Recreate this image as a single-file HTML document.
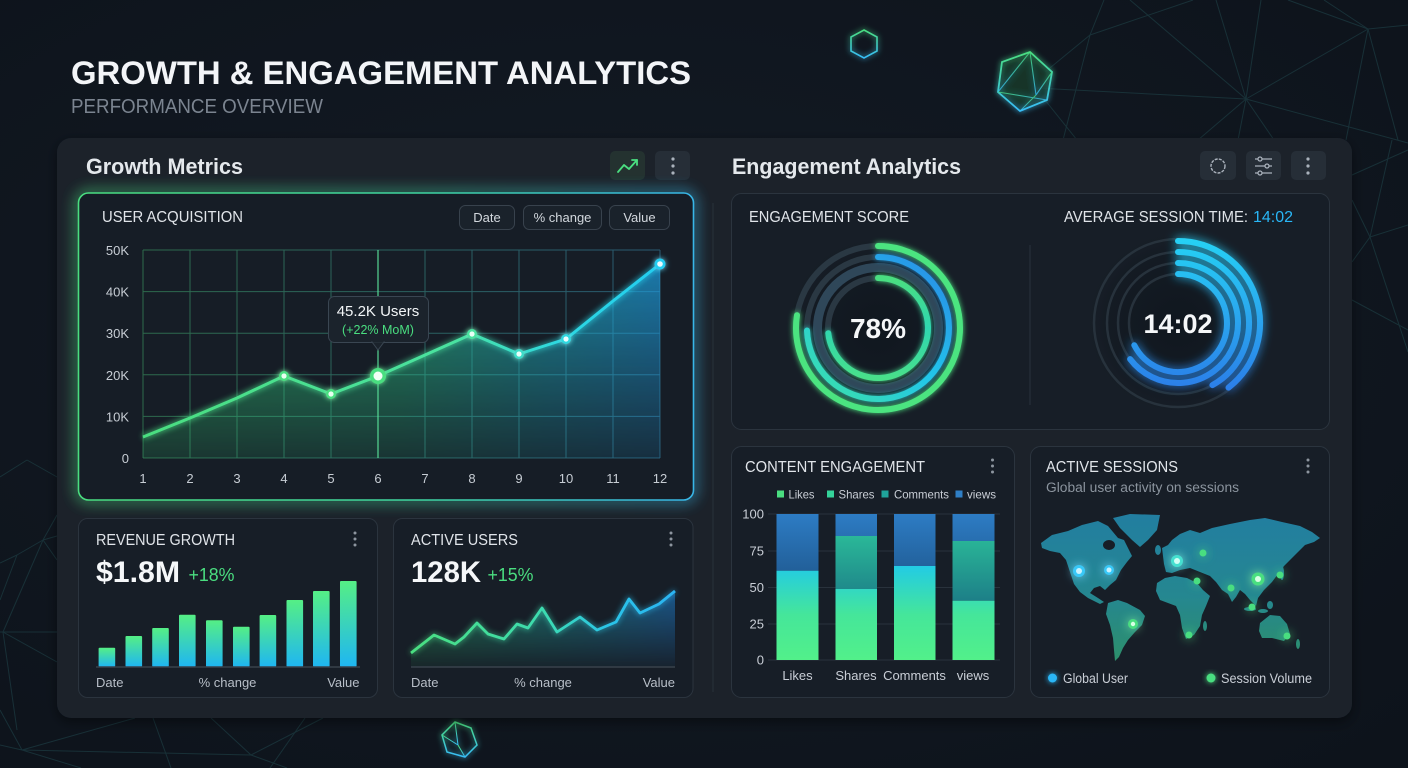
<!DOCTYPE html>
<html><head><meta charset="utf-8">
<style>
html,body{margin:0;padding:0;background:#0f161f;}
svg{display:block;}
text{font-family:"Liberation Sans",sans-serif;}
</style></head>
<body>
<svg width="1408" height="768" viewBox="0 0 1408 768" xmlns="http://www.w3.org/2000/svg">
<defs>
  <radialGradient id="bgG" cx="0.45" cy="0.45" r="0.75">
    <stop offset="0" stop-color="#141b25"/><stop offset="1" stop-color="#0d131b"/>
  </radialGradient>
  <filter id="glow" x="-50%" y="-50%" width="200%" height="200%">
    <feGaussianBlur stdDeviation="3" result="b"/>
    <feMerge><feMergeNode in="b"/><feMergeNode in="SourceGraphic"/></feMerge>
  </filter>
  <filter id="glow2" x="-50%" y="-50%" width="200%" height="200%">
    <feGaussianBlur stdDeviation="5" result="b"/>
    <feMerge><feMergeNode in="b"/><feMergeNode in="SourceGraphic"/></feMerge>
  </filter>
  <filter id="blur6" x="-20%" y="-20%" width="140%" height="140%"><feGaussianBlur stdDeviation="7"/></filter>
  <filter id="blur3" x="-20%" y="-20%" width="140%" height="140%"><feGaussianBlur stdDeviation="3"/></filter>
  <filter id="shadow" x="-10%" y="-10%" width="120%" height="130%">
    <feDropShadow dx="0" dy="4" stdDeviation="6" flood-color="#000" flood-opacity="0.45"/>
  </filter>
  <linearGradient id="cardBorder" x1="78" y1="0" x2="694" y2="0" gradientUnits="userSpaceOnUse">
    <stop offset="0" stop-color="#4ade80"/><stop offset="0.55" stop-color="#3fd6a0"/><stop offset="1" stop-color="#38b6e8"/>
  </linearGradient>
  <linearGradient id="gridG" x1="143" y1="0" x2="660" y2="0" gradientUnits="userSpaceOnUse">
    <stop offset="0" stop-color="#2d6a4c"/><stop offset="1" stop-color="#295a72"/>
  </linearGradient>
  <linearGradient id="acqFill" x1="143" y1="0" x2="660" y2="0" gradientUnits="userSpaceOnUse">
    <stop offset="0" stop-color="#37d777"/><stop offset="0.5" stop-color="#2ccb8c"/><stop offset="0.78" stop-color="#20b2c6"/><stop offset="1" stop-color="#1e9fe2"/>
  </linearGradient>
  <linearGradient id="acqLine" x1="143" y1="0" x2="660" y2="0" gradientUnits="userSpaceOnUse">
    <stop offset="0" stop-color="#4ade80"/><stop offset="0.6" stop-color="#4ae2a0"/><stop offset="0.8" stop-color="#2ed8e0"/><stop offset="1" stop-color="#22cdf0"/>
  </linearGradient>
  <linearGradient id="vfade" x1="0" y1="260" x2="0" y2="458" gradientUnits="userSpaceOnUse">
    <stop offset="0" stop-color="#fff" stop-opacity="0.72"/><stop offset="1" stop-color="#fff" stop-opacity="0.14"/>
  </linearGradient>
  <mask id="acqMask"><rect x="140" y="240" width="530" height="230" fill="url(#vfade)"/></mask>
  <linearGradient id="vfade2" x1="0" y1="590" x2="0" y2="667" gradientUnits="userSpaceOnUse">
    <stop offset="0" stop-color="#fff" stop-opacity="0.6"/><stop offset="1" stop-color="#fff" stop-opacity="0.05"/>
  </linearGradient>
  <mask id="auMask"><rect x="405" y="585" width="280" height="90" fill="url(#vfade2)"/></mask>
  <linearGradient id="auFill" x1="411" y1="0" x2="675" y2="0" gradientUnits="userSpaceOnUse">
    <stop offset="0" stop-color="#2fbf6a"/><stop offset="0.5" stop-color="#22a6a0"/><stop offset="1" stop-color="#1f7fd0"/>
  </linearGradient>
  <linearGradient id="auLine" x1="411" y1="0" x2="675" y2="0" gradientUnits="userSpaceOnUse">
    <stop offset="0" stop-color="#4ade80"/><stop offset="0.5" stop-color="#3ddcb0"/><stop offset="0.75" stop-color="#2ac4e8"/><stop offset="1" stop-color="#2bb4f2"/>
  </linearGradient>
  <linearGradient id="barG" x1="0" y1="0" x2="0" y2="1">
    <stop offset="0" stop-color="#55ef85"/><stop offset="1" stop-color="#1fb6f2"/>
  </linearGradient>
  <linearGradient id="ceBottom" x1="0" y1="660" x2="0" y2="560" gradientUnits="userSpaceOnUse">
    <stop offset="0" stop-color="#52f08a"/><stop offset="0.45" stop-color="#45e69a"/><stop offset="1" stop-color="#1ec8ee"/>
  </linearGradient>
  <linearGradient id="ceMid" x1="0" y1="536" x2="0" y2="600" gradientUnits="userSpaceOnUse">
    <stop offset="0" stop-color="#2ab898"/><stop offset="1" stop-color="#1d8088"/>
  </linearGradient>
  <linearGradient id="ceTop" x1="0" y1="514" x2="0" y2="570" gradientUnits="userSpaceOnUse">
    <stop offset="0" stop-color="#2d7cc4"/><stop offset="1" stop-color="#22609a"/>
  </linearGradient>
  <linearGradient id="mapG" x1="0" y1="515" x2="0" y2="662" gradientUnits="userSpaceOnUse">
    <stop offset="0" stop-color="#2487ab"/><stop offset="0.55" stop-color="#27909a"/><stop offset="1" stop-color="#2f9a70"/>
  </linearGradient>
  <linearGradient id="r1blue" x1="930" y1="255" x2="820" y2="380" gradientUnits="userSpaceOnUse">
    <stop offset="0" stop-color="#2a8ee8"/><stop offset="0.55" stop-color="#22c6ea"/><stop offset="1" stop-color="#37dcb4"/>
  </linearGradient>
  <linearGradient id="r1in" x1="0" y1="278" x2="0" y2="378" gradientUnits="userSpaceOnUse">
    <stop offset="0" stop-color="#4ade80"/><stop offset="0.5" stop-color="#2fd6b0"/><stop offset="1" stop-color="#48e08a"/>
  </linearGradient>
  <linearGradient id="r2" x1="0" y1="241" x2="0" y2="400" gradientUnits="userSpaceOnUse">
    <stop offset="0" stop-color="#27d0f4"/><stop offset="1" stop-color="#2d78e8"/>
  </linearGradient>
  <linearGradient id="hexG" x1="0" y1="0" x2="0" y2="1">
    <stop offset="0" stop-color="#4ade80"/><stop offset="1" stop-color="#38bdf8"/>
  </linearGradient>
  <radialGradient id="ringHalo" cx="0.5" cy="0.5" r="0.5">
    <stop offset="0" stop-color="#0f161e" stop-opacity="0.9"/><stop offset="0.75" stop-color="#111820" stop-opacity="0.5"/><stop offset="1" stop-color="#171e27" stop-opacity="0"/>
  </radialGradient>
</defs>

<!-- background -->
<rect width="1408" height="768" fill="url(#bgG)"/>
<g stroke="#1c3a40" stroke-width="1" fill="none" opacity="0.75">
  <line x1="1104" y1="0" x2="1090" y2="35"/><line x1="1090" y1="35" x2="1193" y2="0"/>
  <line x1="1090" y1="35" x2="1045" y2="72"/><line x1="1130" y1="0" x2="1246" y2="99"/>
  <line x1="1216" y1="0" x2="1246" y2="99"/><line x1="1261" y1="0" x2="1246" y2="99"/>
  <line x1="1246" y1="99" x2="1368" y2="29"/><line x1="1288" y1="0" x2="1368" y2="29"/>
  <line x1="1324" y1="0" x2="1368" y2="29"/><line x1="1368" y1="29" x2="1408" y2="25"/>
  <line x1="1368" y1="29" x2="1346" y2="140"/><line x1="1246" y1="99" x2="1198" y2="140"/>
  <line x1="1246" y1="99" x2="1238" y2="140"/><line x1="1246" y1="99" x2="1274" y2="140"/>
  <line x1="1246" y1="99" x2="1408" y2="143"/><line x1="1036" y1="88" x2="1246" y2="99"/>
  <line x1="1090" y1="35" x2="1063" y2="140"/><line x1="1045" y1="100" x2="1077" y2="140"/>
  <line x1="1368" y1="29" x2="1398" y2="140"/>
  <line x1="1352" y1="200" x2="1370" y2="237"/><line x1="1370" y1="237" x2="1408" y2="225"/>
  <line x1="1370" y1="237" x2="1408" y2="352"/><line x1="1352" y1="262" x2="1370" y2="237"/>
  <line x1="1352" y1="175" x2="1408" y2="150"/><line x1="1370" y1="237" x2="1392" y2="140"/>
  <line x1="1352" y1="300" x2="1408" y2="330"/>
  <!-- left -->
  <line x1="0" y1="477" x2="27" y2="460"/><line x1="27" y1="460" x2="57" y2="477"/>
  <line x1="0" y1="563" x2="17" y2="555"/><line x1="17" y1="555" x2="43" y2="540"/>
  <line x1="43" y1="540" x2="57" y2="536"/><line x1="43" y1="540" x2="3" y2="632"/>
  <line x1="43" y1="540" x2="57" y2="560"/><line x1="0" y1="632" x2="57" y2="632"/>
  <line x1="3" y1="632" x2="57" y2="662"/><line x1="3" y1="632" x2="17" y2="730"/>
  <line x1="57" y1="515" x2="43" y2="540"/><line x1="17" y1="555" x2="0" y2="600"/>
  <!-- bottom -->
  <line x1="0" y1="710" x2="22" y2="750"/><line x1="22" y1="750" x2="135" y2="718"/>
  <line x1="22" y1="750" x2="81" y2="768"/><line x1="22" y1="750" x2="251" y2="755"/>
  <line x1="153" y1="718" x2="171" y2="768"/><line x1="211" y1="718" x2="251" y2="755"/>
  <line x1="251" y1="755" x2="323" y2="718"/><line x1="251" y1="755" x2="287" y2="768"/>
  <line x1="305" y1="718" x2="270" y2="768"/><line x1="0" y1="745" x2="22" y2="750"/>
</g>
<!-- decorative polyhedra -->
<g fill="none" stroke="url(#hexG)" stroke-width="1.6" filter="url(#glow)">
  <polygon points="864,30 877,37 877,51 864,58 851,51 851,37"/>
</g>
<g filter="url(#glow)">
  <polygon points="1030,52 1052,72 1047,100 1020,111 998,92 1002,62" fill="#173a2c" fill-opacity="0.6" stroke="url(#hexG)" stroke-width="1.8"/>
  <g stroke="url(#hexG)" stroke-width="1.1" fill="none" opacity="0.8">
    <line x1="1030" y1="52" x2="998" y2="92"/><line x1="998" y1="92" x2="1047" y2="100"/>
    <line x1="1030" y1="52" x2="1036" y2="95"/><line x1="1036" y1="95" x2="1020" y2="111"/>
    <line x1="1036" y1="95" x2="1052" y2="72"/>
  </g>
</g>
<g filter="url(#glow)" fill="none" stroke="url(#hexG)" stroke-width="1.5">
  <polygon points="455,722 471,728 477,745 465,757 447,752 442,735"/>
  <line x1="455" y1="722" x2="458" y2="745" stroke-width="1"/><line x1="458" y1="745" x2="442" y2="735" stroke-width="1"/>
  <line x1="458" y1="745" x2="465" y2="757" stroke-width="1"/><line x1="458" y1="745" x2="477" y2="745" stroke-width="1"/>
</g>

<!-- header -->
<text x="71" y="84" font-size="32" font-weight="bold" fill="#f3f5f8" textLength="620" lengthAdjust="spacingAndGlyphs">GROWTH &amp; ENGAGEMENT ANALYTICS</text>
<text x="71" y="113" font-size="20" fill="#7b8490" textLength="252" lengthAdjust="spacingAndGlyphs">PERFORMANCE OVERVIEW</text>

<!-- main panel -->
<rect x="57" y="138" width="1295" height="580" rx="14" fill="#1a212a" filter="url(#shadow)"/>

<!-- Growth Metrics header -->
<text x="86" y="174" font-size="22" font-weight="bold" fill="#e4e8ec" textLength="157" lengthAdjust="spacingAndGlyphs">Growth Metrics</text>
<rect x="610" y="151" width="35" height="29" rx="5" fill="#243230"/>
<g stroke="#4ade80" stroke-width="1.8" fill="none" stroke-linecap="round" stroke-linejoin="round">
  <polyline points="618,172 624,165 629,169 637,160"/><polyline points="632,160 637,160 637,165"/>
</g>
<rect x="655" y="151" width="35" height="29" rx="5" fill="#262e37"/>
<g fill="#aab2bc"><circle cx="673" cy="159" r="1.6"/><circle cx="673" cy="166" r="1.6"/><circle cx="673" cy="173" r="1.6"/></g>

<!-- Engagement header -->
<text x="732" y="174" font-size="22" font-weight="bold" fill="#e4e8ec" textLength="229" lengthAdjust="spacingAndGlyphs">Engagement Analytics</text>
<rect x="1200" y="151" width="36" height="29" rx="5" fill="#262e37"/>
<circle cx="1218" cy="166" r="7" fill="none" stroke="#aab2bc" stroke-width="1.4" stroke-dasharray="3 1.2"/>
<rect x="1246" y="151" width="35" height="29" rx="5" fill="#262e37"/>
<g stroke="#aab2bc" stroke-width="1.3" fill="#262e37">
  <line x1="1255" y1="159" x2="1272" y2="159"/><line x1="1255" y1="166" x2="1272" y2="166"/><line x1="1255" y1="173" x2="1272" y2="173"/>
  <circle cx="1260" cy="159" r="2"/><circle cx="1267" cy="166" r="2"/><circle cx="1260" cy="173" r="2"/>
</g>
<rect x="1291" y="151" width="35" height="29" rx="5" fill="#262e37"/>
<g fill="#aab2bc"><circle cx="1308" cy="159" r="1.6"/><circle cx="1308" cy="166" r="1.6"/><circle cx="1308" cy="173" r="1.6"/></g>

<line x1="713" y1="203" x2="713" y2="692" stroke="#28313b" stroke-width="1"/>

<!-- User acquisition card -->
<rect x="78.5" y="193" width="615" height="307" rx="10" fill="none" stroke="url(#cardBorder)" stroke-width="5" filter="url(#blur6)" opacity="0.9"/>
<rect x="78.5" y="193" width="615" height="307" rx="10" fill="#161d26" stroke="url(#cardBorder)" stroke-width="1.6"/>
<text x="102" y="222" font-size="16" fill="#e0e4e9" textLength="141" lengthAdjust="spacingAndGlyphs">USER ACQUISITION</text>
<g fill="#1a222b" stroke="#38424d" stroke-width="1">
  <rect x="459.5" y="205.5" width="55" height="24" rx="6"/>
  <rect x="523.5" y="205.5" width="78" height="24" rx="6"/>
  <rect x="609.5" y="205.5" width="60" height="24" rx="6"/>
</g>
<g font-size="13" fill="#d3d8de" text-anchor="middle">
  <text x="487" y="222">Date</text><text x="562.5" y="222">% change</text><text x="639.5" y="222">Value</text>
</g>
<!-- grid -->
<g stroke="url(#gridG)" stroke-width="1">
  <line x1="143" y1="250" x2="660" y2="250"/><line x1="143" y1="291.6" x2="660" y2="291.6"/>
  <line x1="143" y1="333.2" x2="660" y2="333.2"/><line x1="143" y1="374.8" x2="660" y2="374.8"/>
  <line x1="143" y1="416.4" x2="660" y2="416.4"/><line x1="143" y1="458" x2="660" y2="458"/>
  <line x1="143" y1="250" x2="143" y2="458"/><line x1="190" y1="250" x2="190" y2="458"/>
  <line x1="237" y1="250" x2="237" y2="458"/><line x1="284" y1="250" x2="284" y2="458"/>
  <line x1="331" y1="250" x2="331" y2="458"/><line x1="425" y1="250" x2="425" y2="458"/>
  <line x1="472" y1="250" x2="472" y2="458"/><line x1="519" y1="250" x2="519" y2="458"/>
  <line x1="566" y1="250" x2="566" y2="458"/><line x1="613" y1="250" x2="613" y2="458"/>
  <line x1="660" y1="250" x2="660" y2="458"/>
</g>
<path d="M143,458 L143,437 190,418 237,398 284,376 331,394 378,376 425,355 472,334 519,354 566,339 613,301 660,264 L660,458 Z" fill="url(#acqFill)" mask="url(#acqMask)"/>
<line x1="378" y1="250" x2="378" y2="458" stroke="#5be39a" stroke-width="1.5" opacity="0.75"/>
<polyline points="143,437 190,418 237,398 284,376 331,394 378,376 425,355 472,334 519,354 566,339 613,301 660,264" fill="none" stroke="url(#acqLine)" stroke-width="5" filter="url(#blur3)" opacity="0.7"/>
<polyline points="143,437 190,418 237,398 284,376 331,394 378,376 425,355 472,334 519,354 566,339 613,301 660,264" fill="none" stroke="url(#acqLine)" stroke-width="3" stroke-linejoin="round"/>
<g filter="url(#glow)">
  <circle cx="284" cy="376" r="5" fill="#4ade80"/><circle cx="284" cy="376" r="2.6" fill="#e8fff0"/>
  <circle cx="331" cy="394" r="5" fill="#4ade80"/><circle cx="331" cy="394" r="2.6" fill="#e8fff0"/>
  <circle cx="378" cy="376" r="8" fill="#4ade80"/><circle cx="378" cy="376" r="4.5" fill="#f0fff5"/>
  <circle cx="472" cy="334" r="5" fill="#4ae2a0"/><circle cx="472" cy="334" r="2.6" fill="#e8fff5"/>
  <circle cx="519" cy="354" r="5" fill="#3ddcc8"/><circle cx="519" cy="354" r="2.6" fill="#e8fffa"/>
  <circle cx="566" cy="339" r="5" fill="#2ed8e0"/><circle cx="566" cy="339" r="2.6" fill="#e8fdff"/>
  <circle cx="660" cy="264" r="5.5" fill="#22cdf0"/><circle cx="660" cy="264" r="2.8" fill="#e8faff"/>
</g>
<!-- tooltip -->
<rect x="328.5" y="296.5" width="100" height="46" rx="6" fill="#1b232c" stroke="#3a4652" stroke-width="1"/>
<polygon points="372,342 378,350 384,342" fill="#1b232c" stroke="#3a4652" stroke-width="1"/>
<rect x="372.5" y="340" width="11" height="2.2" fill="#1b232c"/>
<text x="378" y="316" font-size="15" fill="#f2f5f7" text-anchor="middle">45.2K Users</text>
<text x="378" y="334" font-size="12.5" fill="#4ade80" text-anchor="middle">(+22% MoM)</text>
<!-- axis labels -->
<g font-size="13" fill="#c7cdd4" text-anchor="end">
  <text x="129" y="255">50K</text><text x="129" y="296.6">40K</text><text x="129" y="338">30K</text>
  <text x="129" y="380">20K</text><text x="129" y="421.4">10K</text><text x="129" y="463">0</text>
</g>
<g font-size="13" fill="#c7cdd4" text-anchor="middle">
  <text x="143" y="483">1</text><text x="190" y="483">2</text><text x="237" y="483">3</text><text x="284" y="483">4</text>
  <text x="331" y="483">5</text><text x="378" y="483">6</text><text x="425" y="483">7</text><text x="472" y="483">8</text>
  <text x="519" y="483">9</text><text x="566" y="483">10</text><text x="613" y="483">11</text><text x="660" y="483">12</text>
</g>

<!-- Revenue growth card -->
<rect x="78.5" y="518.5" width="299" height="179" rx="9" fill="#171e27" stroke="#2b343e" stroke-width="1"/>
<text x="96" y="545" font-size="15.5" fill="#e0e4e9" textLength="139" lengthAdjust="spacingAndGlyphs">REVENUE GROWTH</text>
<g fill="#8d959f"><circle cx="355" cy="533" r="1.5"/><circle cx="355" cy="539" r="1.5"/><circle cx="355" cy="545" r="1.5"/></g>
<text x="96" y="582" font-size="30" font-weight="bold" fill="#f5f7f9" textLength="84" lengthAdjust="spacingAndGlyphs">$1.8M</text>
<text x="188.5" y="581" font-size="18" fill="#4ade80" textLength="46" lengthAdjust="spacingAndGlyphs">+18%</text>
<g fill="url(#barG)">
  <rect x="98.6" y="647.7" width="16.6" height="19" rx="1"/>
  <rect x="125.5" y="636" width="16.6" height="30.7" rx="1"/>
  <rect x="152.2" y="628" width="16.6" height="38.7" rx="1"/>
  <rect x="179" y="614.7" width="16.6" height="52" rx="1"/>
  <rect x="206" y="620.3" width="16.6" height="46.4" rx="1"/>
  <rect x="233" y="626.7" width="16.6" height="40" rx="1"/>
  <rect x="259.6" y="615" width="16.6" height="51.7" rx="1"/>
  <rect x="286.5" y="600" width="16.6" height="66.7" rx="1"/>
  <rect x="313" y="591" width="16.6" height="75.7" rx="1"/>
  <rect x="340" y="581" width="16.6" height="85.7" rx="1"/>
</g>
<line x1="96" y1="667" x2="360" y2="667" stroke="#38424c" stroke-width="1.5"/>
<g font-size="13" fill="#b8bfc8">
  <text x="96" y="687">Date</text><text x="227.5" y="687" text-anchor="middle">% change</text><text x="359.5" y="687" text-anchor="end">Value</text>
</g>

<!-- Active users card -->
<rect x="393.5" y="518.5" width="299.5" height="179" rx="9" fill="#171e27" stroke="#2b343e" stroke-width="1"/>
<text x="411" y="545" font-size="15.5" fill="#e0e4e9" textLength="107" lengthAdjust="spacingAndGlyphs">ACTIVE USERS</text>
<g fill="#8d959f"><circle cx="671" cy="533" r="1.5"/><circle cx="671" cy="539" r="1.5"/><circle cx="671" cy="545" r="1.5"/></g>
<text x="411" y="582" font-size="30" font-weight="bold" fill="#f5f7f9" textLength="70" lengthAdjust="spacingAndGlyphs">128K</text>
<text x="487.5" y="581" font-size="18" fill="#4ade80" textLength="46" lengthAdjust="spacingAndGlyphs">+15%</text>
<path d="M411,666.7 L411,653 434,635 455,644 464,637 477,623 488,634 504,639 517,624 528,628 542,608 557,632 580,617 597,630 616,622 629,599 640,613 659,604 675,591 L675,666.7 Z" fill="url(#auFill)" mask="url(#auMask)"/>
<polyline points="411,653 434,635 455,644 464,637 477,623 488,634 504,639 517,624 528,628 542,608 557,632 580,617 597,630 616,622 629,599 640,613 659,604 675,591" fill="none" stroke="url(#auLine)" stroke-width="4" filter="url(#blur3)" opacity="0.6"/>
<polyline points="411,653 434,635 455,644 464,637 477,623 488,634 504,639 517,624 528,628 542,608 557,632 580,617 597,630 616,622 629,599 640,613 659,604 675,591" fill="none" stroke="url(#auLine)" stroke-width="2.8" stroke-linejoin="round"/>
<line x1="411" y1="667" x2="675" y2="667" stroke="#38424c" stroke-width="1.5"/>
<g font-size="13" fill="#b8bfc8">
  <text x="411" y="687">Date</text><text x="543" y="687" text-anchor="middle">% change</text><text x="675" y="687" text-anchor="end">Value</text>
</g>

<!-- Engagement card -->
<rect x="731.5" y="193.5" width="598" height="236" rx="10" fill="#171e27" stroke="#2b343e" stroke-width="1"/>
<text x="749" y="222" font-size="16" fill="#e0e4e9" textLength="160" lengthAdjust="spacingAndGlyphs">ENGAGEMENT SCORE</text>
<text x="1064" y="222" font-size="16" fill="#e0e4e9" textLength="184" lengthAdjust="spacingAndGlyphs">AVERAGE SESSION TIME:</text>
<text x="1253" y="222" font-size="16" fill="#29b6f6" textLength="40" lengthAdjust="spacingAndGlyphs">14:02</text>
<line x1="1030" y1="245" x2="1030" y2="405" stroke="#2a333d" stroke-width="1"/>

<!-- ring 1 -->
<circle cx="878" cy="328" r="95" fill="url(#ringHalo)"/>
<g fill="none" stroke-width="6">
  <circle cx="878" cy="328" r="82" stroke="#2a3843"/>
  <circle cx="878" cy="328" r="71" stroke="#2a3843"/>
  <circle cx="878" cy="328" r="60.5" stroke="#2f4759" stroke-width="9"/>
  <circle cx="878" cy="328" r="50" stroke="#2a3843"/>
</g>
<g fill="none" stroke-width="6" stroke-linecap="round" filter="url(#glow)">
  <path d="M878,246 A82,82 0 1 1 797,315.2" stroke="#4be480"/>
  <path d="M878,257 A71,71 0 1 1 807,330.5" stroke="url(#r1blue)"/>
  <path d="M878,278 A50,50 0 1 1 828.3,333.2" stroke="url(#r1in)"/>
</g>
<text x="878" y="338" font-size="28" font-weight="bold" fill="#f5f7f9" text-anchor="middle">78%</text>

<!-- ring 2 -->
<circle cx="1178" cy="323" r="95" fill="url(#ringHalo)"/>
<g fill="none" stroke="#27323c" stroke-width="2.5">
  <circle cx="1178" cy="323" r="84"/><circle cx="1178" cy="323" r="71"/>
  <circle cx="1178" cy="323" r="60"/><circle cx="1178" cy="323" r="49"/>
</g>
<g fill="none" stroke="url(#r2)" stroke-width="6" stroke-linecap="round" filter="url(#glow2)">
  <path d="M1178,241 A82,82 0 0 1 1228.5,387.6"/>
  <path d="M1178,252 A71,71 0 0 1 1212.4,385.1"/>
  <path d="M1178,263 A60,60 0 1 1 1130.1,359.1"/>
  <path d="M1178,274 A49,49 0 1 1 1134.3,345.2"/>
</g>
<text x="1178" y="333" font-size="27" font-weight="bold" fill="#f5f7f9" text-anchor="middle">14:02</text>

<!-- Content engagement -->
<rect x="731.5" y="446.5" width="283" height="251" rx="10" fill="#171e27" stroke="#2b343e" stroke-width="1"/>
<text x="745" y="472" font-size="15.5" fill="#e0e4e9" textLength="180" lengthAdjust="spacingAndGlyphs">CONTENT ENGAGEMENT</text>
<g fill="#8d959f"><circle cx="992.5" cy="460" r="1.5"/><circle cx="992.5" cy="466" r="1.5"/><circle cx="992.5" cy="472" r="1.5"/></g>
<rect x="777" y="490.5" width="7" height="7" fill="#4ade80"/>
<rect x="827" y="490.5" width="7" height="7" fill="#34d39a"/>
<rect x="881.5" y="490.5" width="7" height="7" fill="#1fa39a"/>
<rect x="955.5" y="490.5" width="7" height="7" fill="#2f7fc6"/>
<g font-size="12" fill="#c9ced6">
  <text x="788.5" y="498.5" textLength="26" lengthAdjust="spacingAndGlyphs">Likes</text>
  <text x="838.5" y="498.5" textLength="36" lengthAdjust="spacingAndGlyphs">Shares</text>
  <text x="894" y="498.5" textLength="55" lengthAdjust="spacingAndGlyphs">Comments</text>
  <text x="967" y="498.5" textLength="29" lengthAdjust="spacingAndGlyphs">views</text>
</g>
<g stroke="#29323c" stroke-width="1">
  <line x1="768" y1="514" x2="1000" y2="514"/><line x1="768" y1="551" x2="1000" y2="551"/>
  <line x1="768" y1="587.5" x2="1000" y2="587.5"/><line x1="768" y1="624" x2="1000" y2="624"/>
  <line x1="768" y1="660" x2="1000" y2="660"/>
</g>
<g font-size="13" fill="#c9ced6" text-anchor="end">
  <text x="764" y="518.5">100</text><text x="764" y="555.5">75</text><text x="764" y="592">50</text>
  <text x="764" y="628.5">25</text><text x="764" y="664.5">0</text>
</g>
<!-- bars -->
<rect x="776.5" y="514" width="42" height="56.7" fill="url(#ceTop)"/>
<rect x="776.5" y="570.7" width="42" height="89.3" fill="url(#ceBottom)"/>
<rect x="835.5" y="514" width="41.5" height="22" fill="url(#ceTop)"/>
<rect x="835.5" y="536" width="41.5" height="53" fill="url(#ceMid)"/>
<rect x="835.5" y="589" width="41.5" height="71" fill="url(#ceBottom)"/>
<rect x="894" y="514" width="41.5" height="52" fill="url(#ceTop)"/>
<rect x="894" y="566" width="41.5" height="94" fill="url(#ceBottom)"/>
<rect x="952.5" y="514" width="42" height="27" fill="url(#ceTop)"/>
<rect x="952.5" y="541" width="42" height="59.7" fill="url(#ceMid)"/>
<rect x="952.5" y="600.7" width="42" height="59.3" fill="url(#ceBottom)"/>
<g font-size="13" fill="#c9ced6" text-anchor="middle">
  <text x="797.5" y="680">Likes</text><text x="856" y="680">Shares</text>
  <text x="914.5" y="680">Comments</text><text x="973" y="680">views</text>
</g>

<!-- Active sessions -->
<rect x="1030.5" y="446.5" width="299" height="251" rx="10" fill="#171e27" stroke="#2b343e" stroke-width="1"/>
<text x="1046" y="472" font-size="15.5" fill="#e0e4e9" textLength="132" lengthAdjust="spacingAndGlyphs">ACTIVE SESSIONS</text>
<text x="1046" y="492" font-size="13.5" fill="#8b949e" textLength="193" lengthAdjust="spacingAndGlyphs">Global user activity on sessions</text>
<g fill="#8d959f"><circle cx="1308" cy="460" r="1.5"/><circle cx="1308" cy="466" r="1.5"/><circle cx="1308" cy="472" r="1.5"/></g>
<g fill="url(#mapG)" opacity="0.92">
  <polygon points="1041,543 1052,535 1068,531 1082,525 1098,521 1108,526 1113,532 1118,538 1124,540 1128,548 1132,556 1127,562 1121,570 1116,580 1110,585 1105,590 1100,586 1094,588 1090,593 1098,598 1104,602 1100,604 1088,598 1080,592 1074,584 1070,572 1066,560 1060,553 1050,551 1042,548"/>
  <polygon points="1113,518 1130,514 1160,515 1157,530 1148,540 1140,547 1132,540 1120,528"/>
  <polygon points="1108,603 1118,600 1127,603 1140,610 1145,616 1142,625 1135,632 1128,640 1123,648 1119,657 1115,661 1114,650 1113,638 1110,625 1106,614"/>
  <polygon points="1163,556 1162,548 1168,545 1172,540 1180,534 1190,530 1200,533 1212,528 1230,524 1250,520 1265,518 1282,522 1300,526 1312,532 1320,538 1314,542 1305,545 1298,552 1290,560 1284,566 1278,574 1272,582 1264,590 1258,598 1256,606 1250,600 1245,594 1240,590 1236,597 1232,602 1228,594 1222,590 1216,582 1210,576 1200,572 1190,568 1180,570 1172,573 1166,572 1164,564"/>
  <polygon points="1157,583 1165,578 1175,576 1187,578 1197,583 1203,590 1210,596 1206,606 1202,615 1200,626 1194,635 1186,639 1182,628 1180,615 1176,606 1168,603 1160,600 1156,591"/>
  <polygon points="1260,623 1270,615 1280,616 1287,624 1290,634 1284,641 1272,638 1262,638 1259,631"/>
  <ellipse cx="1158" cy="550" rx="3" ry="5"/>
  <ellipse cx="1250" cy="609" rx="6" ry="2"/><ellipse cx="1263" cy="611" rx="5" ry="2"/><ellipse cx="1270" cy="605" rx="3" ry="4"/>
  <ellipse cx="1205" cy="626" rx="2" ry="5"/>
  <ellipse cx="1282" cy="573" rx="2" ry="7"/>
  <ellipse cx="1298" cy="644" rx="2" ry="5"/>
</g>
<ellipse cx="1109" cy="545" rx="6" ry="5" fill="#171e27"/>
<g filter="url(#glow2)">
  <circle cx="1079" cy="571" r="6" fill="#38c8f8"/><circle cx="1079" cy="571" r="3" fill="#c8f2ff"/>
  <circle cx="1109" cy="570" r="5" fill="#38c8f8"/><circle cx="1109" cy="570" r="2.5" fill="#c8f2ff"/>
  <circle cx="1177" cy="561" r="6" fill="#45e0d0"/><circle cx="1177" cy="561" r="3" fill="#d0fff5"/>
  <circle cx="1203" cy="553" r="3.5" fill="#4ade80"/>
  <circle cx="1197" cy="581" r="3.5" fill="#4ade80"/>
  <circle cx="1231" cy="588" r="3.5" fill="#4ade80"/>
  <circle cx="1258" cy="579" r="6.5" fill="#4ade80"/><circle cx="1258" cy="579" r="3" fill="#d8ffe4"/>
  <circle cx="1280" cy="575" r="3.5" fill="#4ade80"/>
  <circle cx="1252" cy="607" r="3.5" fill="#4ade80"/>
  <circle cx="1133" cy="624" r="5" fill="#4ade80"/><circle cx="1133" cy="624" r="2.2" fill="#d8ffe4"/>
  <circle cx="1189" cy="635" r="3.5" fill="#4ade80"/>
  <circle cx="1287" cy="636" r="3.5" fill="#4ade80"/>
</g>
<circle cx="1052.5" cy="678" r="4.5" fill="#29b6f6" filter="url(#glow)"/>
<text x="1063" y="683" font-size="13.5" fill="#c9ced6" textLength="65" lengthAdjust="spacingAndGlyphs">Global User</text>
<circle cx="1211" cy="678" r="4.5" fill="#4ade80" filter="url(#glow)"/>
<text x="1221" y="683" font-size="13.5" fill="#c9ced6" textLength="91" lengthAdjust="spacingAndGlyphs">Session Volume</text>
</svg>
</body></html>
